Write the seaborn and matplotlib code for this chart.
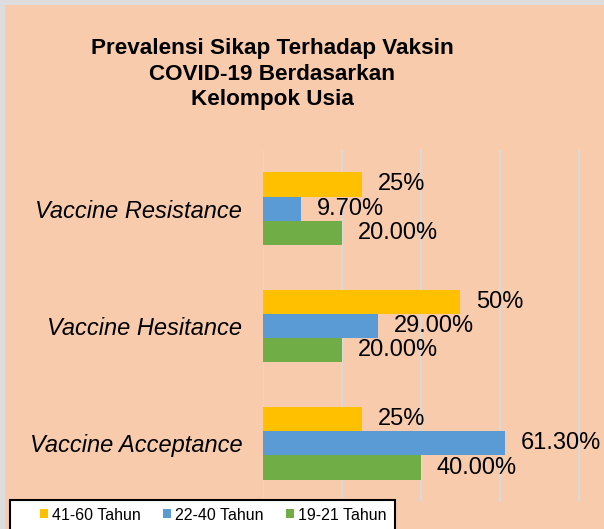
import pandas as pd
import matplotlib.pyplot as plt
import seaborn as sns
from matplotlib.patches import Patch, Rectangle

# === Data === #
categories = ["Vaccine Resistance", "Vaccine Hesitance", "Vaccine Acceptance"]
groups = ["41-60 Tahun", "22-40 Tahun", "19-21 Tahun"]
values_41_60 = [25.0, 50.0, 25.0]
values_22_40 = [9.7, 29.0, 61.3]
values_19_21 = [20.0, 20.0, 40.0]
labels_41_60 = ["25%", "50%", "25%"]
labels_22_40 = ["9.70%", "29.00%", "61.30%"]
labels_19_21 = ["20.00%", "20.00%", "40.00%"]

colors = ["#FFC000", "#5B9BD5", "#70AD47"]
peach = "#F8CBAD"

df = pd.DataFrame({
    "Kategori": categories * 3,
    "Kelompok": [g for g in groups for _ in categories],
    "Persen": values_41_60 + values_22_40 + values_19_21,
})

sns.set_theme(style="white")
plt.rcParams["font.family"] = ["Liberation Sans", "DejaVu Sans"]

fig = plt.figure(figsize=(6.04, 5.29), dpi=100)
fig.patch.set_facecolor("#DDDDDD")
fig.add_artist(Rectangle((5 / 604, 0), 1, 1 - 5 / 529, transform=fig.transFigure,
                         facecolor=peach, edgecolor="none", zorder=-10))

ax = fig.add_axes([263 / 604, 1 - 502 / 529, 395 / 604, 352 / 529])
ax.set_facecolor("none")

sns.barplot(data=df, y="Kategori", x="Persen", hue="Kelompok",
            order=categories, hue_order=groups, palette=colors,
            orient="h", width=0.62, saturation=1, ax=ax, legend=False,
            linewidth=0, edgecolor="none")

for cont, labs in zip(ax.containers, [labels_41_60, labels_22_40, labels_19_21]):
    ax.bar_label(cont, labels=labs, padding=11.5, fontsize=17, color="black")

ax.set_xlim(0, 100)
ax.set_xticks([0, 20, 40, 60, 80, 100])
ax.set_xticklabels([])
ax.grid(axis="x", color="#D9D9D9", linewidth=1.5)
ax.set_axisbelow(True)
for s in ax.spines.values():
    s.set_visible(False)
ax.set_xlabel("")
ax.set_ylabel("")
ax.tick_params(axis="y", length=0, pad=15, labelsize=17, labelcolor="black")
ax.tick_params(axis="x", length=0)
for t in ax.get_yticklabels():
    t.set_fontstyle("italic")

# === Title === #
fig.text(272 / 604, 1 - 74 / 529,
         "Prevalensi Sikap Terhadap Vaksin\nCOVID-19 Berdasarkan\nKelompok Usia",
         ha="center", va="center", fontsize=16.2, fontweight="bold",
         linespacing=1.3, color="black")

# === Legend === #
fig.add_artist(Rectangle((10 / 604, -0.05), 385 / 604, (529 - 500) / 529 + 0.05,
                         transform=fig.transFigure, facecolor="white",
                         edgecolor="black", linewidth=1.5, zorder=4))
handles = [Patch(facecolor=c, edgecolor="none", label=g) for c, g in zip(colors, groups)]
leg = fig.legend(handles=handles, loc="center left",
                 bbox_to_anchor=(32 / 604, 1 - 515 / 529), ncol=3, frameon=False,
                 fontsize=11.5, borderpad=0, handlelength=0.5, handleheight=0.5,
                 handletextpad=0.25, columnspacing=1.4, labelcolor="black")
leg.set_zorder(6)

fig.savefig("out.png", dpi=100, facecolor=fig.get_facecolor())
